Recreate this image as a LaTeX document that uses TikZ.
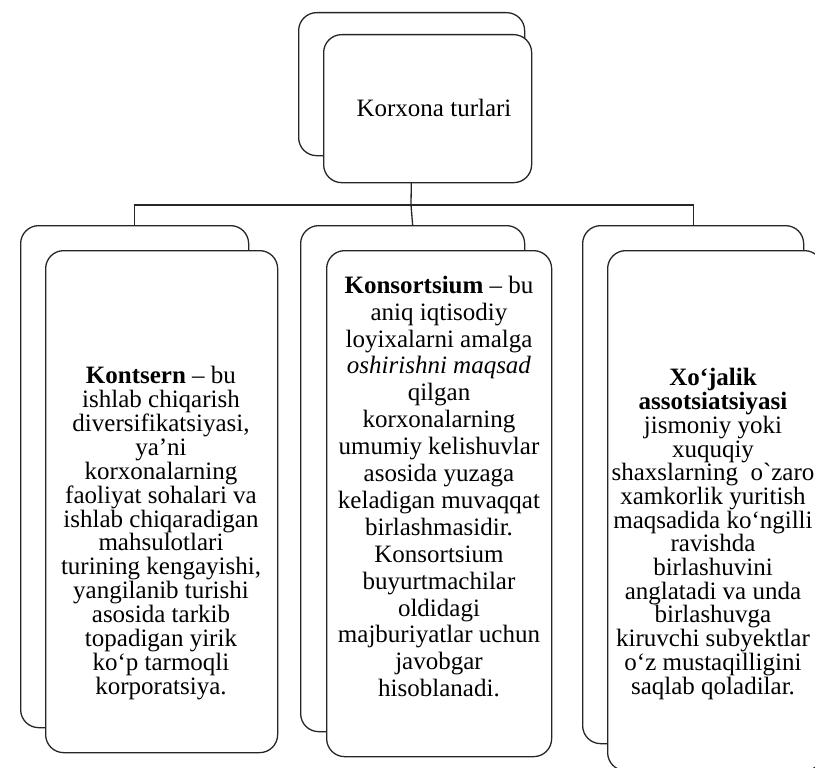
\documentclass[tikz,border=0pt]{standalone}
\usepackage{fontspec}
\setmainfont{Liberation Serif}[Ligatures=TeXOff]
\tikzset{
  box/.style={draw=black!85, line width=1.3pt, rounded corners=18pt, fill=white, anchor=north west, inner sep=0pt},
  conn/.style={draw=black!85, line width=1.3pt},
  txt/.style={align=center, inner sep=0pt, text=black}
}
\begin{document}
\begin{tikzpicture}[x=1pt,y=-1pt]
\useasboundingbox (0,0) rectangle (815,768);
\clip (0,0) rectangle (815,768);
% back boxes
\node[box, minimum width=226pt, minimum height=143pt] (topB) at (298,12) {};
\node[box, minimum width=228pt, minimum height=502pt] (leftB) at (20,225) {};
\node[box, minimum width=224pt, minimum height=506pt] (midB) at (300,225) {};
\node[box, minimum width=221pt, minimum height=518pt] (rightB) at (582,225) {};
% connectors
\coordinate (j) at (411,205);
\draw[conn] (topB.south) -- (j);
\draw[conn] (leftB.north) |- (j) -| (rightB.north);
\draw[conn] (j) -- (midB.north);
% front boxes
\node[box, minimum width=208pt, minimum height=148pt] (topF) at (323,34) {};
\node[box, minimum width=232pt, minimum height=502pt] (leftF) at (45,250) {};
\node[box, minimum width=225pt, minimum height=506pt] (midF) at (326,250) {};
\node[box, minimum width=215pt, minimum height=520pt] (rightF) at (607,250) {};
% texts
\node[txt, font=\fontsize{25}{25}\selectfont] (topT) at (434,108) {Korxona turlari};
\node[txt, font=\fontsize{25}{23.85}\selectfont] (leftT) at (161,533) {\textbf{Kontsern} – bu\\ ishlab chiqarish\\ diversifikatsiyasi,\\ ya’ni\\ korxonalarning\\ faoliyat sohalari va\\ ishlab chiqaradigan\\ mahsulotlari\\ turining kengayishi,\\ yangilanib turishi\\ asosida tarkib\\ topadigan yirik\\ ko‘p tarmoqli\\ korporatsiya.};
\node[txt, font=\fontsize{25}{26.9}\selectfont] (midT) at (439,486.5) {\textbf{Konsortsium} – bu\\ aniq iqtisodiy\\ loyixalarni amalga\\ \textit{oshirishni maqsad}\\ qilgan\\ korxonalarning\\ umumiy kelishuvlar\\ asosida yuzaga\\ keladigan muvaqqat\\ birlashmasidir.\\ Konsortsium\\ buyurtmachilar\\ oldidagi\\ majburiyatlar uchun\\ javobgar\\ hisoblanadi.};
\node[txt, font=\fontsize{25}{23.7}\selectfont] (rightT) at (713,534) {\textbf{Xo‘jalik}\\ \textbf{assotsiatsiyasi}\\ jismoniy yoki\\ xuquqiy\\ shaxslarning\ \ o`zaro\\ xamkorlik yuritish\\ maqsadida ko‘ngilli\\ ravishda\\ birlashuvini\\ anglatadi va unda\\ birlashuvga\\ kiruvchi subyektlar\\ o‘z mustaqilligini\\ saqlab qoladilar.};
\end{tikzpicture}
\end{document}
